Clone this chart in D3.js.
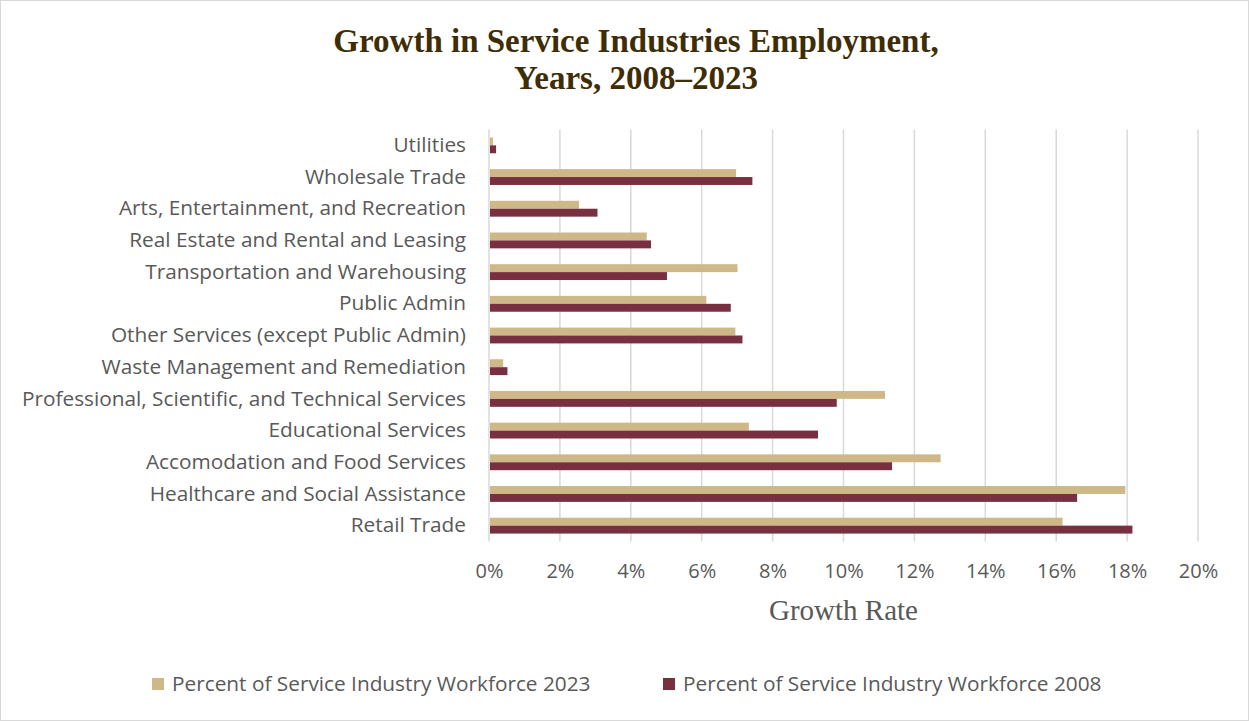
<!DOCTYPE html>
<html>
<head>
<meta charset="utf-8">
<script src="https://cdn.jsdelivr.net/npm/d3@7"></script>
<style>
  html, body { margin: 0; padding: 0; background: #fff; }
  svg { display: block; }
</style>
</head>
<body>
<svg id="chart" width="1249" height="721"></svg>
<script>
// Service industries, top to bottom as listed on the chart
const categories = [
  "Utilities",
  "Wholesale Trade",
  "Arts, Entertainment, and Recreation",
  "Real Estate and Rental and Leasing",
  "Transportation and Warehousing",
  "Public Admin",
  "Other Services (except Public Admin)",
  "Waste Management and Remediation",
  "Professional, Scientific, and Technical Services",
  "Educational Services",
  "Accomodation and Food Services",
  "Healthcare and Social Assistance",
  "Retail Trade"
];

// Share of the service-industry workforce (%)
const values2023 = [0.11, 6.97, 2.54, 4.45, 7.01, 6.13, 6.95, 0.40, 11.17, 7.33, 12.74, 17.95, 16.18];
const values2008 = [0.20, 7.43, 3.06, 4.57, 5.02, 6.82, 7.15, 0.52, 9.81, 9.28, 11.37, 16.59, 18.15];

const seriesNames = ["Percent of Service Industry Workforce 2023", "Percent of Service Industry Workforce 2008"];
const seriesKeys = ["y2023", "y2008"];
const tickValues = [0, 2, 4, 6, 8, 10, 12, 14, 16, 18, 20];

const colors = { y2023: "#CFB887", y2008: "#782F40" };

const rows = categories.map((c, i) => ({ category: c, y2023: values2023[i], y2008: values2008[i] }));

const W = 1249, H = 721;
const margin = { left: 489, right: 51, top: 129.5, bottom: 179.5 };
const innerW = W - margin.left - margin.right;
const innerH = H - margin.top - margin.bottom;

const svg = d3.select("#chart");

// Outer frame
svg.append("rect")
  .attr("x", 0.5).attr("y", 0.5)
  .attr("width", W - 1).attr("height", H - 1)
  .attr("fill", "#fff").attr("stroke", "#d9d9d9");

// Title
const title = svg.append("text")
  .attr("text-anchor", "middle")
  .attr("font-family", "'Liberation Serif', 'DejaVu Serif', serif")
  .attr("font-weight", "bold")
  .attr("font-size", 33)
  .attr("fill", "#3f2e05");
title.append("tspan").attr("x", 636).attr("y", 52).text("Growth in Service Industries Employment,");
title.append("tspan").attr("x", 636).attr("y", 89).text("Years, 2008\u20132023");

const x = d3.scaleLinear().domain([0, 20]).range([0, innerW]);
const y = d3.scaleBand().domain(categories).range([0, innerH]).paddingInner(0.5).paddingOuter(0.25);
const ySub = d3.scaleBand().domain(seriesKeys).range([0, y.bandwidth()]);

const g = svg.append("g").attr("transform", `translate(${margin.left},${margin.top})`);

// Vertical gridlines
g.append("g")
  .selectAll("line")
  .data(tickValues)
  .join("line")
  .attr("x1", d => x(d)).attr("x2", d => x(d))
  .attr("y1", 0).attr("y2", innerH)
  .attr("stroke", "#d9d9d9").attr("stroke-width", 1.5);

// Bars
const groups = g.append("g")
  .selectAll("g")
  .data(rows)
  .join("g")
  .attr("transform", d => `translate(0,${y(d.category)})`);

groups.selectAll("rect")
  .data(d => seriesKeys.map(k => ({ key: k, value: d[k] })))
  .join("rect")
  .attr("x", x(0) + 1)
  .attr("y", d => ySub(d.key))
  .attr("width", d => Math.max(0, x(d.value) - x(0) - 1))
  .attr("height", ySub.bandwidth())
  .attr("fill", d => colors[d.key]);

// Category axis (labels only)
const yAxis = g.append("g")
  .call(d3.axisLeft(y).tickSize(0).tickPadding(23));
yAxis.select(".domain").remove();
yAxis.selectAll("text")
  .attr("font-family", "'Open Sans', sans-serif")
  .attr("font-size", 20.8)
  .attr("fill", "#595959");

// Value axis
const xAxis = g.append("g")
  .attr("transform", `translate(0,${innerH})`)
  .call(d3.axisBottom(x).tickValues(tickValues).tickFormat(d => d + "%").tickSize(0).tickPadding(22));
xAxis.select(".domain").remove();
xAxis.selectAll("text")
  .attr("font-family", "'Open Sans', sans-serif")
  .attr("font-size", 20)
  .attr("fill", "#595959");

// Axis title
svg.append("text")
  .attr("x", margin.left + innerW / 2)
  .attr("y", 620)
  .attr("text-anchor", "middle")
  .attr("font-family", "'Liberation Serif', 'DejaVu Serif', serif")
  .attr("font-size", 29)
  .attr("fill", "#595959")
  .text("Growth Rate");

// Legend
const legendX = [152, 663];
const legend = svg.append("g")
  .selectAll("g")
  .data(seriesKeys)
  .join("g")
  .attr("transform", (d, i) => `translate(${legendX[i]},684)`);
legend.append("rect")
  .attr("x", 0).attr("y", -6)
  .attr("width", 12).attr("height", 12)
  .attr("fill", d => colors[d]);
legend.append("text")
  .attr("x", 20).attr("y", 0)
  .attr("dy", "0.35em")
  .attr("font-family", "'Open Sans', sans-serif")
  .attr("font-size", 20.8)
  .attr("fill", "#595959")
  .text((d, i) => seriesNames[i]);
</script>
</body>
</html>
